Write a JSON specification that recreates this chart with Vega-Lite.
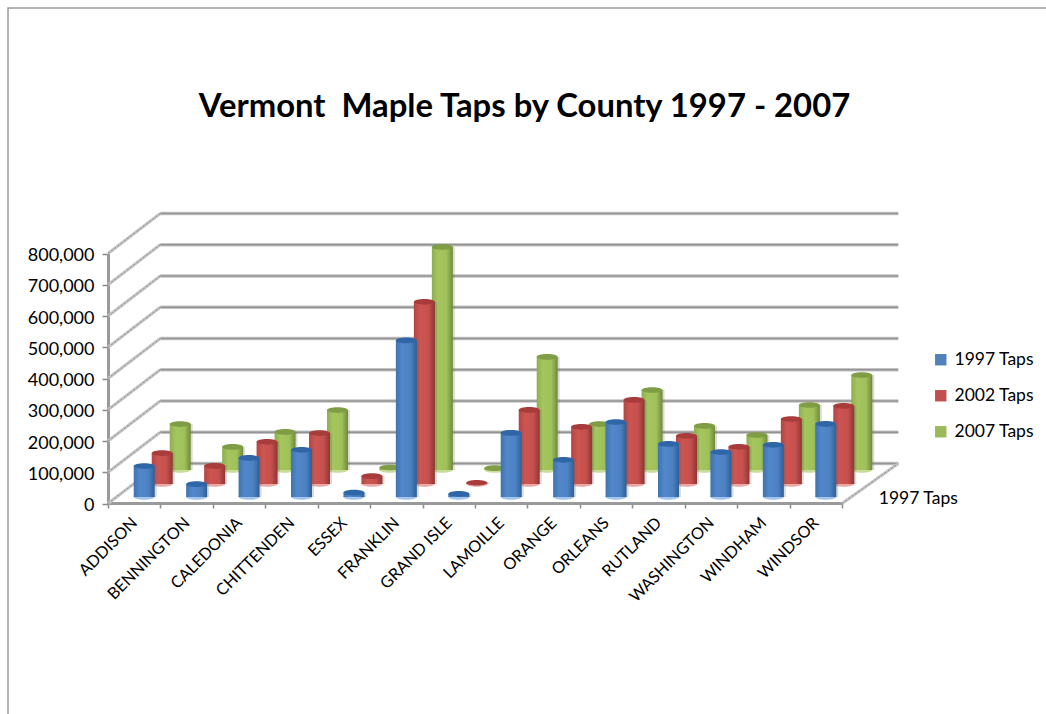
{
"$schema":"https://vega.github.io/schema/vega-lite/v6.json",
"width":1039,"height":707,
"autosize":{"type":"none"},
"padding":{"left":8,"top":8,"right":0,"bottom":0},
"background":"white",
"config":{"view":{"stroke":"#9a9a9a","strokeWidth":1.5},"font":"Lato"},
"title":{"text":"Vermont \u00a0Maple Taps by County 1997 - 2007","font":"Lato","fontSize":32.8,"fontWeight":"bold","color":"black","anchor":"middle","frame":"group","dx":-3,"offset":-116},
"datasets":{
"levels":[{"taps":0},{"taps":100000},{"taps":200000},{"taps":300000},{"taps":400000},{"taps":500000},{"taps":600000},{"taps":700000},{"taps":800000}],
"depth":[{"series":"1997 Taps","taps":0}],
"taps":[
{"county":"ADDISON","series":"1997 Taps","taps":99000},{"county":"BENNINGTON","series":"1997 Taps","taps":41000},{"county":"CALEDONIA","series":"1997 Taps","taps":125000},{"county":"CHITTENDEN","series":"1997 Taps","taps":151000},{"county":"ESSEX","series":"1997 Taps","taps":14000},{"county":"FRANKLIN","series":"1997 Taps","taps":501000},{"county":"GRAND ISLE","series":"1997 Taps","taps":10000},{"county":"LAMOILLE","series":"1997 Taps","taps":205000},{"county":"ORANGE","series":"1997 Taps","taps":119000},{"county":"ORLEANS","series":"1997 Taps","taps":240000},{"county":"RUTLAND","series":"1997 Taps","taps":170000},{"county":"WASHINGTON","series":"1997 Taps","taps":144000},{"county":"WINDHAM","series":"1997 Taps","taps":167000},{"county":"WINDSOR","series":"1997 Taps","taps":234000},
{"county":"ADDISON","series":"2002 Taps","taps":99000},{"county":"BENNINGTON","series":"2002 Taps","taps":58000},{"county":"CALEDONIA","series":"2002 Taps","taps":135000},{"county":"CHITTENDEN","series":"2002 Taps","taps":163000},{"county":"ESSEX","series":"2002 Taps","taps":25000},{"county":"FRANKLIN","series":"2002 Taps","taps":583000},{"county":"GRAND ISLE","series":"2002 Taps","taps":4000},{"county":"LAMOILLE","series":"2002 Taps","taps":237000},{"county":"ORANGE","series":"2002 Taps","taps":183000},{"county":"ORLEANS","series":"2002 Taps","taps":269000},{"county":"RUTLAND","series":"2002 Taps","taps":154000},{"county":"WASHINGTON","series":"2002 Taps","taps":119000},{"county":"WINDHAM","series":"2002 Taps","taps":208000},{"county":"WINDSOR","series":"2002 Taps","taps":250000},
{"county":"ADDISON","series":"2007 Taps","taps":147000},{"county":"BENNINGTON","series":"2007 Taps","taps":74000},{"county":"CALEDONIA","series":"2007 Taps","taps":122000},{"county":"CHITTENDEN","series":"2007 Taps","taps":192000},{"county":"ESSEX","series":"2007 Taps","taps":8000},{"county":"FRANKLIN","series":"2007 Taps","taps":714000},{"county":"GRAND ISLE","series":"2007 Taps","taps":6000},{"county":"LAMOILLE","series":"2007 Taps","taps":362000},{"county":"ORANGE","series":"2007 Taps","taps":147000},{"county":"ORLEANS","series":"2007 Taps","taps":256000},{"county":"RUTLAND","series":"2007 Taps","taps":141000},{"county":"WASHINGTON","series":"2007 Taps","taps":112000},{"county":"WINDHAM","series":"2007 Taps","taps":208000},{"county":"WINDSOR","series":"2007 Taps","taps":304000}
],
"floor":[
{"county":"ADDISON","taps":0},{"county":"BENNINGTON","taps":0},{"county":"CALEDONIA","taps":0},{"county":"CHITTENDEN","taps":0},{"county":"ESSEX","taps":0},{"county":"FRANKLIN","taps":0},{"county":"GRAND ISLE","taps":0},{"county":"LAMOILLE","taps":0},{"county":"ORANGE","taps":0},{"county":"ORLEANS","taps":0},{"county":"RUTLAND","taps":0},{"county":"WASHINGTON","taps":0},{"county":"WINDHAM","taps":0},{"county":"WINDSOR","taps":0}
]},
"encoding":{
"x":{"field":"county","type":"nominal","sort":null,"title":null,
"scale":{"domain":["ADDISON","BENNINGTON","CALEDONIA","CHITTENDEN","ESSEX","FRANKLIN","GRAND ISLE","LAMOILLE","ORANGE","ORLEANS","RUTLAND","WASHINGTON","WINDHAM","WINDSOR"],"range":[100,834],"paddingInner":0,"paddingOuter":0},
"axis":{"offset":-212,"labelAngle":-45,"labelAlign":"right","labelBaseline":"middle","labelFont":"Lato","labelFontSize":16.3,"labelColor":"black","labelPadding":12,"labelOverlap":false,"domainColor":"#9a9a9a","domainWidth":3,"tickColor":"#8a8a8a","tickWidth":1.5,"tickSize":5,"tickBand":"extent","grid":false}},
"y":{"field":"taps","type":"quantitative","title":null,
"scale":{"domain":[0,800000],"range":[495.5,245.5],"nice":false,"zero":true},
"axis":{"offset":-100,"values":[0,100000,200000,300000,400000,500000,600000,700000,800000],"format":",.0f","labelFont":"Lato","labelFontSize":18,"labelColor":"black","labelPadding":8,"labelOffset":2,"domainColor":"#9a9a9a","domainWidth":3,"tickColor":"#8a8a8a","tickWidth":1.5,"tickSize":6,"grid":false}}
},
"layer":[
{"data":{"name":"levels"},"mark":{"type":"rule","stroke":"#c4c4c4","strokeWidth":3.5,"xOffset":26,"x2Offset":82.5,"yOffset":-40,"y2Offset":-40},
 "encoding":{"x":{"datum":"ADDISON"},"x2":{"datum":"WINDSOR"},"y2":{"field":"taps"}}},
{"data":{"name":"levels"},"mark":{"type":"rule","stroke":"#949494","strokeWidth":1.5,"xOffset":26,"x2Offset":82.5,"yOffset":-40,"y2Offset":-40},
 "encoding":{"x":{"datum":"ADDISON"},"x2":{"datum":"WINDSOR"},"y2":{"field":"taps"}}},
{"data":{"name":"levels"},"mark":{"type":"rule","stroke":"#c4c4c4","strokeWidth":3,"xOffset":-26.2,"x2Offset":26,"y2Offset":-40},
 "encoding":{"x":{"datum":"ADDISON"},"x2":{"datum":"ADDISON"},"y2":{"field":"taps"}}},
{"data":{"name":"levels"},"mark":{"type":"rule","stroke":"#8f8f8f","strokeWidth":1,"strokeDash":[2,2],"xOffset":-26.2,"x2Offset":26,"y2Offset":-40},
 "encoding":{"x":{"datum":"ADDISON"},"x2":{"datum":"ADDISON"},"y2":{"field":"taps"}}},
{"data":{"name":"depth"},"mark":{"type":"rule","stroke":"#c4c4c4","strokeWidth":3,"xOffset":26.2,"x2Offset":82.5,"y2Offset":-40},
 "encoding":{"x":{"datum":"WINDSOR"},"x2":{"datum":"WINDSOR"},"y2":{"field":"taps"}}},
{"data":{"name":"depth"},"mark":{"type":"rule","stroke":"#8f8f8f","strokeWidth":1,"strokeDash":[2,2],"xOffset":26.2,"x2Offset":82.5,"y2Offset":-40},
 "encoding":{"x":{"datum":"WINDSOR"},"x2":{"datum":"WINDSOR"},"y2":{"field":"taps"}}},
{"data":{"name":"depth"},"mark":{"type":"text","align":"left","baseline":"middle","font":"Lato","fontSize":17.5,"color":"black","xOffset":63,"yOffset":-5},
 "encoding":{"x":{"datum":"WINDSOR"},"text":{"field":"series"}}},
{"data":{"name":"taps"},"mark":{"type":"square","opacity":0,"size":1},
 "encoding":{"color":{"field":"series","type":"nominal","title":null,
  "scale":{"domain":["1997 Taps","2002 Taps","2007 Taps"],"range":["#4F81BD","#C0504D","#9BBB59"]},
  "legend":{"orient":"none","legendX":924,"legendY":343,"symbolType":"square","symbolSize":130,"symbolOpacity":1,"symbolStrokeWidth":0,"labelFont":"Lato","labelFontSize":17.5,"labelColor":"black","labelOffset":5,"rowPadding":17,"title":null}}}},
{"data":{"name":"floor"},"mark":{"type":"point","filled":true,"opacity":1,"color":"#c9dc9a","shape":"M-1,0A1,0.27,0,1,1,1,0A1,0.27,0,1,1,-1,0Z","size":441,"xOffset":46,"yOffset":-33.5}},
{"data":{"name":"taps"},"transform":[{"filter":"datum.series === '2007 Taps'"}],
 "layer":[
  {"mark":{"type":"bar","width":21,"xOffset":48,"yOffset":-33.5,"y2Offset":-33.5,"color":"#6f6f6f","opacity":0.25}},
  {"mark":{"type":"bar","width":21,"xOffset":46,"yOffset":-33.5,"y2Offset":-33.5,"color":{"gradient":"linear","x1":0,"x2":1,"y1":0,"y2":0,"stops":[{"offset":0,"color":"#8FAE52"},{"offset":0.3,"color":"#A5C65E"},{"offset":0.7,"color":"#A0C05A"},{"offset":1,"color":"#6E8A3A"}]}}},
  {"mark":{"type":"point","filled":true,"opacity":1,"color":"#7F9D45","shape":"M-1,0A1,0.27,0,1,1,1,0A1,0.27,0,1,1,-1,0Z","size":441,"xOffset":46,"yOffset":-33.5}}
 ]},
{"data":{"name":"floor"},"mark":{"type":"point","filled":true,"opacity":1,"color":"#eaa9a7","shape":"M-1,0A1,0.27,0,1,1,1,0A1,0.27,0,1,1,-1,0Z","size":441,"xOffset":28,"yOffset":-19.5}},
{"data":{"name":"taps"},"transform":[{"filter":"datum.series === '2002 Taps'"}],
 "layer":[
  {"mark":{"type":"bar","width":21,"xOffset":30,"yOffset":-19.5,"y2Offset":-19.5,"color":"#6f6f6f","opacity":0.25}},
  {"mark":{"type":"bar","width":21,"xOffset":28,"yOffset":-19.5,"y2Offset":-19.5,"color":{"gradient":"linear","x1":0,"x2":1,"y1":0,"y2":0,"stops":[{"offset":0,"color":"#B04744"},{"offset":0.3,"color":"#CD5552"},{"offset":0.7,"color":"#C5504D"},{"offset":1,"color":"#8F3533"}]}}},
  {"mark":{"type":"point","filled":true,"opacity":1,"color":"#A83C3A","shape":"M-1,0A1,0.27,0,1,1,1,0A1,0.27,0,1,1,-1,0Z","size":441,"xOffset":28,"yOffset":-19.5}}
 ]},
{"data":{"name":"floor"},"mark":{"type":"point","filled":true,"opacity":1,"color":"#a3c4ec","shape":"M-1,0A1,0.27,0,1,1,1,0A1,0.27,0,1,1,-1,0Z","size":441,"xOffset":10,"yOffset":-6.5}},
{"data":{"name":"taps"},"transform":[{"filter":"datum.series === '1997 Taps'"}],
 "layer":[
  {"mark":{"type":"bar","width":21,"xOffset":12,"yOffset":-6.5,"y2Offset":-6.5,"color":"#6f6f6f","opacity":0.25}},
  {"mark":{"type":"bar","width":21,"xOffset":10,"yOffset":-6.5,"y2Offset":-6.5,"color":{"gradient":"linear","x1":0,"x2":1,"y1":0,"y2":0,"stops":[{"offset":0,"color":"#3F72AE"},{"offset":0.3,"color":"#5288CB"},{"offset":0.7,"color":"#4C82C2"},{"offset":1,"color":"#2F5F97"}]}}},
  {"mark":{"type":"point","filled":true,"opacity":1,"color":"#2F66A8","shape":"M-1,0A1,0.27,0,1,1,1,0A1,0.27,0,1,1,-1,0Z","size":441,"xOffset":10,"yOffset":-6.5}}
 ]}
]
}
